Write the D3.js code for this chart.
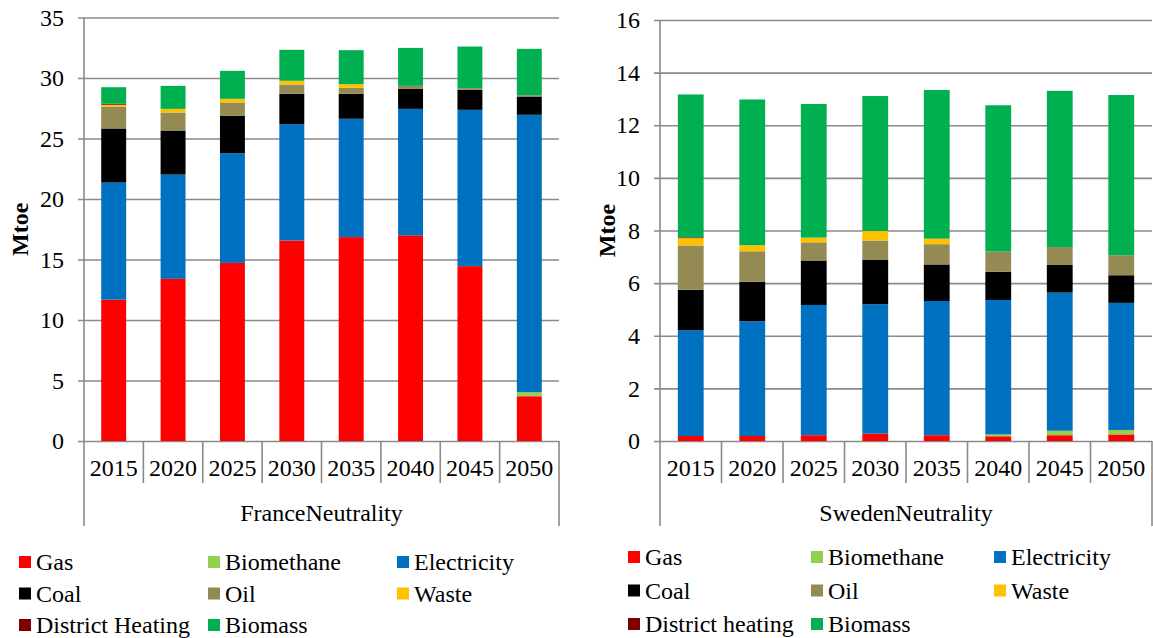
<!DOCTYPE html>
<html lang="en">
  <head>
    <meta charset="UTF-8" />
    <title>Final energy consumption - Neutrality scenarios</title>
    <script src="https://d3js.org/d3.v7.min.js"></script>
    <style>
      body { margin: 0; background: #fff; }
      svg { display: block; font-family: 'Liberation Serif', 'Times New Roman', serif; }
      .tick text { font-family: 'Liberation Serif', 'Times New Roman', serif; font-size: 24px; fill: #000; }
    </style>
  </head>
  <body>
    <svg width="1153" height="638"></svg>

    <script>
      // Categories and series
      const years = ['2015', '2020', '2025', '2030', '2035', '2040', '2045', '2050'];
      const seriesFr = ['Gas', 'Biomethane', 'Electricity', 'Coal', 'Oil', 'Waste', 'District Heating', 'Biomass'];
      const seriesSe = ['Gas', 'Biomethane', 'Electricity', 'Coal', 'Oil', 'Waste', 'District heating', 'Biomass'];
      const colors = ['#ff0000', '#92d050', '#0070c0', '#000000', '#948a54', '#ffc000', '#7f0000', '#00b050'];

      // FranceNeutrality (Mtoe)
      const frGas = [11.68, 13.4, 14.72, 16.57, 16.85, 17.0, 14.45, 3.7];
      const frBiomethane = [0, 0, 0, 0, 0, 0, 0, 0.33];
      const frElectricity = [9.68, 8.62, 9.07, 9.61, 9.78, 10.45, 12.92, 22.93];
      const frCoal = [4.47, 3.64, 3.08, 2.51, 2.06, 1.65, 1.65, 1.51];
      const frOil = [1.81, 1.49, 1.11, 0.77, 0.5, 0.25, 0.14, 0.11];
      const frWaste = [0.15, 0.3, 0.3, 0.31, 0.3, 0, 0, 0];
      const frDistrictHeating = [0.08, 0, 0, 0, 0, 0, 0, 0];
      const frBiomass = [1.37, 1.9, 2.31, 2.56, 2.81, 3.14, 3.44, 3.83];

      // SwedenNeutrality (Mtoe)
      const seGas = [0.19, 0.19, 0.22, 0.28, 0.22, 0.18, 0.22, 0.25];
      const seBiomethane = [0, 0, 0, 0, 0, 0.07, 0.17, 0.17];
      const seElectricity = [4.02, 4.36, 4.95, 4.92, 5.1, 5.11, 5.25, 4.83];
      const seCoal = [1.54, 1.5, 1.69, 1.68, 1.39, 1.07, 1.05, 1.05];
      const seOil = [1.68, 1.16, 0.69, 0.74, 0.77, 0.77, 0.68, 0.76];
      const seWaste = [0.28, 0.23, 0.18, 0.36, 0.21, 0, 0, 0];
      const seDistrictHeating = [0.03, 0, 0, 0, 0, 0, 0, 0];
      const seBiomass = [5.43, 5.54, 5.08, 5.13, 5.65, 5.56, 5.94, 6.09];

      // Axis ticks
      const frTicks = [0, 5, 10, 15, 20, 25, 30, 35];
      const seTicks = [0, 2, 4, 6, 8, 10, 12, 14, 16];

      const svg = d3.select('svg');
      const gridColor = '#8a8a8a';

      function drawPanel(p) {
        const g = svg.append('g');

        // rows for d3.stack
        const rows = years.map((yr, i) => {
          const row = { year: yr };
          p.series.forEach((s, k) => (row[s] = p.values[k][i]));
          return row;
        });
        const stacked = d3.stack().keys(p.series)(rows);

        const x = d3.scaleBand().domain(years).range([p.x0, p.x1]);
        const y = d3.scaleLinear().domain([0, p.max]).range([p.yBase, p.yTop]);
        const barW = x.bandwidth() * 0.42;

        // Gridlines + y labels
        const yAxis = g
          .append('g')
          .attr('transform', `translate(${p.x1},0)`)
          .call(
            d3.axisLeft(y).tickValues(p.ticks).tickSize(p.x1 - p.x0 + 6).tickPadding(14).tickFormat(d3.format('d')),
          );
        yAxis.select('.domain').remove();
        yAxis.selectAll('.tick line').attr('stroke', gridColor).attr('stroke-width', 1.6);

        // Vertical axis line extended into the category area
        g.append('line')
          .attr('x1', p.x0).attr('x2', p.x0)
          .attr('y1', p.yTop).attr('y2', 526)
          .attr('stroke', gridColor).attr('stroke-width', 1.6);
        g.append('line')
          .attr('x1', p.x1).attr('x2', p.x1)
          .attr('y1', p.yBase).attr('y2', 526)
          .attr('stroke', gridColor).attr('stroke-width', 1.6);

        // Category separators
        g.selectAll('.sep')
          .data(years.slice(1))
          .enter()
          .append('line')
          .attr('x1', (d) => x(d)).attr('x2', (d) => x(d))
          .attr('y1', p.yBase).attr('y2', 483)
          .attr('stroke', gridColor).attr('stroke-width', 1.6);

        // Bars
        g.selectAll('.layer')
          .data(stacked)
          .enter()
          .append('g')
          .attr('fill', (d, i) => colors[i])
          .selectAll('rect')
          .data((d) => d)
          .enter()
          .append('rect')
          .attr('x', (d) => x(d.data.year) + (x.bandwidth() - barW) / 2)
          .attr('width', barW)
          .attr('y', (d) => y(d[1]))
          .attr('height', (d) => y(d[0]) - y(d[1]));

        // Category labels
        const xAxis = g
          .append('g')
          .attr('transform', `translate(0,${p.yBase})`)
          .call(d3.axisBottom(x).tickSize(0).tickPadding(18));
        xAxis.select('.domain').remove();

        // Group label
        g.append('text')
          .attr('x', (p.x0 + p.x1) / 2)
          .attr('y', 521)
          .attr('text-anchor', 'middle')
          .attr('font-size', 24)
          .text(p.title);

        // Y title
        g.append('text')
          .attr('transform', `translate(${p.titleX},${(p.yTop + p.yBase) / 2 + 0}) rotate(-90)`)
          .attr('text-anchor', 'middle')
          .attr('font-size', 24)
          .attr('font-weight', 'bold')
          .text('Mtoe');

        // Legend
        const cols = [p.legX, p.legX + p.legCol, p.legX + p.legCol * 2];
        p.series.forEach((s, i) => {
          const col = i % 3;
          const row = Math.floor(i / 3);
          const cy = p.legY + row * p.legRow;
          g.append('rect')
            .attr('x', cols[col])
            .attr('y', cy - 6)
            .attr('width', 12)
            .attr('height', 12)
            .attr('fill', colors[i]);
          g.append('text')
            .attr('x', cols[col] + 17)
            .attr('y', cy + 8)
            .attr('font-size', 24)
            .text(s);
        });
      }

      drawPanel({
        title: 'FranceNeutrality',
        series: seriesFr,
        values: [frGas, frBiomethane, frElectricity, frCoal, frOil, frWaste, frDistrictHeating, frBiomass],
        ticks: frTicks,
        max: 35,
        x0: 84,
        x1: 559,
        yBase: 441,
        yTop: 17.5,
        titleX: 28,
        legX: 19,
        legCol: 189,
        legY: 562,
        legRow: 31.5,
      });

      drawPanel({
        title: 'SwedenNeutrality',
        series: seriesSe,
        values: [seGas, seBiomethane, seElectricity, seCoal, seOil, seWaste, seDistrictHeating, seBiomass],
        ticks: seTicks,
        max: 16,
        x0: 660,
        x1: 1152,
        yBase: 441,
        yTop: 20,
        titleX: 615,
        legX: 628,
        legCol: 183,
        legY: 557,
        legRow: 33.5,
      });
    </script>
  </body>
</html>
